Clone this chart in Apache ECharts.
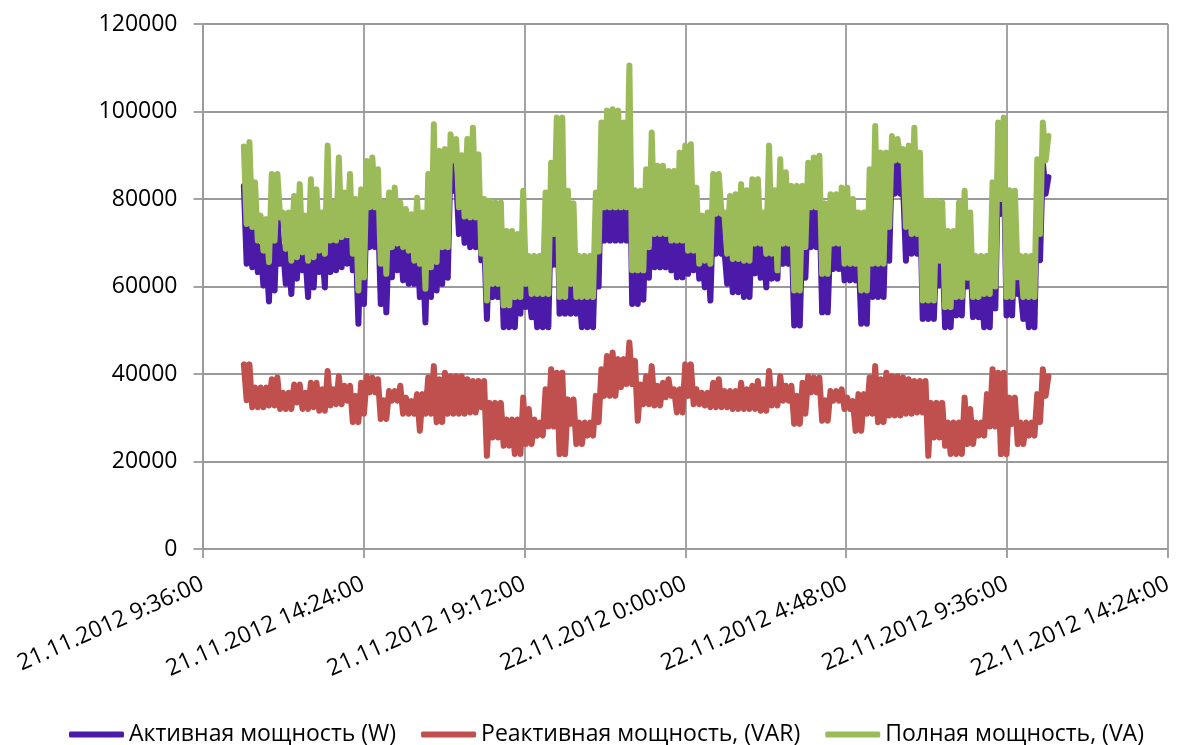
<!DOCTYPE html>
<html>
<head>
<meta charset="utf-8">
<script src="https://cdn.jsdelivr.net/npm/echarts@6/dist/echarts.min.js"></script>
<style>
  html, body { margin: 0; padding: 0; background: #ffffff; }
  #chart { width: 1178px; height: 745px; }
</style>
</head>
<body>
<div id="chart"></div>
<script>
// Series names (legend)
const seriesNames = ['Активная мощность (W)', 'Реактивная мощность, (VAR)', 'Полная мощность, (VA)'];

// Time axis tick labels, every 4:48 from 21.11.2012 9:36
const xTickLabels = [
  '21.11.2012 9:36:00', '21.11.2012 14:24:00', '21.11.2012 19:12:00',
  '22.11.2012 0:00:00', '22.11.2012 4:48:00', '22.11.2012 9:36:00', '22.11.2012 14:24:00'
];
const xTickStepMin = 288;          // 4 h 48 min
// Samples: minutes after 21.11.2012 9:36, first one at 10:50, every 5 min
const sampleStartMin = 74;
const sampleStepMin = 5;

// Active power, W
const activePower = [
  83000, 65200, 84000, 64400, 74800, 63300, 69000, 60200, 67000, 56600,
  76700, 59100, 77000, 65200, 69000, 60600, 68000, 58300, 71700, 61800,
  74400, 63700, 67200, 57600, 75500, 59800, 73200, 63300, 68500, 59800,
  83200, 63300, 71500, 63700, 80500, 64400, 72800, 65200, 76700, 63700,
  71000, 51500, 73200, 56000, 79700, 69000, 80500, 69000, 77800, 56000,
  70200, 54100, 72500, 62100, 73600, 63700, 70200, 61400, 69200, 60600,
  67500, 60600, 71300, 57600, 67900, 51800, 76700, 57600, 88100, 59100,
  82000, 60600, 82400, 62000, 90000, 81900, 84700, 72000, 81000, 70000,
  84700, 69000, 87300, 69000, 81200, 66000, 71000, 52600, 70600, 57600,
  70200, 57600, 70200, 50700, 63700, 50700, 63700, 50700, 63000, 53800,
  72900, 55300, 59300, 53000, 59300, 50700, 59300, 50700, 72500, 50700,
  79300, 65000, 89600, 53800, 89600, 53800, 72900, 53800, 70000, 53800,
  59300, 50700, 59300, 50700, 59300, 50700, 72500, 60000, 88500, 70500,
  91200, 70500, 91500, 70500, 91200, 70500, 88500, 70500, 98000, 56000,
  73000, 56000, 72900, 57000, 77800, 62000, 86200, 64400, 78600, 64400,
  78600, 64400, 77400, 63700, 77400, 62100, 81600, 62100, 83200, 62900,
  83500, 63700, 73600, 61800, 67500, 59800, 68000, 56800, 77600, 67500,
  77600, 67500, 68500, 60600, 71700, 58700, 72100, 58700, 74400, 57600,
  73000, 57600, 75500, 63000, 75500, 62000, 68500, 59800, 83200, 61800,
  73000, 61800, 80100, 65200, 77100, 65200, 74000, 51100, 74000, 51100,
  74000, 62000, 79300, 69000, 80500, 69000, 80900, 54100, 70000, 54100,
  72100, 64000, 72100, 64000, 73600, 61400, 73600, 61400, 71000, 61400,
  67900, 51500, 67900, 51500, 77800, 57600, 87700, 57600, 81600, 57600,
  81600, 65900, 89800, 81200, 89800, 81200, 82400, 65900, 83200, 67500,
  87300, 67500, 81600, 52600, 70600, 52600, 70600, 52600, 70600, 60200,
  70200, 50700, 63700, 50700, 63700, 53400, 70200, 53400, 72900, 60000,
  67900, 53000, 59300, 53000, 59300, 50700, 59300, 50700, 74800, 55000,
  88500, 76600, 89600, 53400, 73000, 53400, 72900, 58300, 59300, 52600,
  59300, 50700, 59300, 50700, 80100, 66000, 88500, 81200, 85000
];

// Reactive power, VAR
const reactivePower = [
  42200, 34000, 42200, 32400, 36900, 32400, 36900, 32400, 36900, 32800,
  38800, 32800, 39200, 32000, 35700, 32000, 35700, 32000, 37600, 33500,
  37600, 32000, 35700, 32000, 38000, 32400, 38000, 31600, 36500, 31600,
  40700, 32800, 36500, 33100, 39500, 33100, 37300, 33900, 37300, 29000,
  35000, 29000, 38000, 30900, 39500, 35800, 39200, 35800, 38800, 29700,
  34000, 29700, 36100, 33900, 36100, 33900, 37300, 30900, 34600, 30900,
  33800, 30900, 35400, 27000, 35400, 30900, 39200, 30900, 41800, 29000,
  38800, 29000, 40300, 30900, 39500, 30900, 39500, 30900, 39500, 30900,
  38800, 31200, 38400, 31200, 38400, 32400, 38400, 21300, 33400, 25500,
  33400, 25500, 33400, 23600, 29600, 23600, 29600, 21700, 29600, 21700,
  34600, 24000, 32000, 24000, 29600, 25900, 28900, 25900, 36500, 28000,
  41100, 28000, 40300, 21700, 40300, 21700, 34200, 28600, 34200, 24000,
  28900, 24000, 28900, 25900, 28900, 25900, 35000, 29000, 41100, 35000,
  44100, 35000, 44900, 35000, 43400, 37000, 43400, 37700, 47200, 37700,
  43000, 29300, 37600, 33100, 39500, 33100, 41800, 32800, 37300, 32800,
  38000, 34700, 38800, 35000, 36500, 31200, 36500, 31200, 42200, 35000,
  42200, 33100, 36500, 33100, 35700, 32800, 35700, 32400, 38000, 32400,
  38800, 32400, 36100, 32400, 36100, 32000, 36100, 32000, 38000, 32000,
  36500, 32000, 37300, 32000, 38400, 31600, 36500, 31600, 40700, 32800,
  36500, 32800, 39500, 33900, 37300, 33900, 37300, 28600, 35000, 28600,
  38000, 30900, 39500, 35800, 39200, 35800, 39200, 29300, 34000, 29300,
  36100, 33900, 36100, 33900, 36500, 32000, 34600, 32000, 33800, 27000,
  35400, 27000, 35400, 30900, 39200, 30900, 41800, 29000, 38800, 29000,
  40300, 30500, 39500, 30500, 39500, 30500, 39200, 30900, 38800, 30900,
  38400, 31200, 38400, 31200, 38400, 21300, 33400, 25500, 33400, 25500,
  33400, 23600, 28900, 21700, 28900, 21700, 28900, 21700, 34600, 24000,
  32000, 24000, 28900, 25900, 28900, 25900, 35400, 28000, 41100, 28000,
  40300, 21700, 40300, 21700, 34600, 28600, 34600, 24000, 28900, 24000,
  28900, 25900, 28900, 25900, 35400, 29000, 41100, 35000, 39500
];

// Apparent power, VA
const apparentPower = [
  92000, 74300, 93000, 73600, 83800, 70500, 76200, 68200, 75400, 65600,
  85700, 70500, 85700, 75800, 76900, 68600, 76900, 65900, 80700, 66700,
  83400, 67800, 76200, 65900, 84500, 66700, 82200, 68200, 76900, 67500,
  92200, 70500, 79200, 70500, 89500, 71300, 81500, 71700, 85700, 67500,
  80000, 59100, 82200, 62100, 88700, 78100, 89500, 78100, 86800, 65200,
  79200, 62900, 81500, 69000, 82600, 69800, 79200, 69000, 77700, 68200,
  76500, 65900, 80300, 65200, 76900, 59500, 85700, 64400, 97100, 65600,
  91000, 69000, 91400, 69000, 94800, 88800, 93700, 78100, 90000, 76000,
  93700, 75800, 96300, 75800, 90200, 67500, 80000, 56800, 79600, 60600,
  79200, 60600, 79200, 55700, 72700, 55700, 72700, 57600, 72000, 57600,
  81900, 60600, 67000, 58300, 67000, 58300, 67000, 58300, 81500, 58300,
  88300, 72000, 98600, 57600, 98600, 57600, 81900, 60600, 79000, 57600,
  67000, 57600, 67000, 57600, 67000, 57600, 81500, 68000, 97500, 78100,
  100200, 78100, 100500, 78100, 100200, 78100, 97500, 78100, 110500, 63700,
  82000, 63700, 81900, 63700, 86800, 69000, 95200, 72000, 87600, 72000,
  87600, 72000, 86400, 70500, 86400, 70500, 90600, 70500, 92200, 68200,
  92500, 68200, 82600, 65200, 76200, 65900, 76900, 65200, 85700, 76600,
  85700, 76600, 76900, 67500, 80700, 66300, 81100, 66300, 83400, 65900,
  82000, 65900, 84500, 69800, 84500, 69800, 76900, 67500, 92200, 67500,
  82000, 63700, 89100, 69800, 86100, 69800, 83000, 59100, 83000, 59100,
  83000, 69000, 88300, 78100, 89500, 78100, 89900, 62900, 79000, 62900,
  81100, 69800, 81100, 69800, 82600, 65200, 82600, 65200, 80000, 65200,
  76900, 59100, 76900, 59100, 86800, 65200, 96700, 65200, 90600, 65200,
  90600, 73600, 94400, 88800, 93700, 88800, 91400, 73600, 92200, 72000,
  96300, 72000, 90600, 56800, 79600, 56800, 79600, 56800, 79600, 65900,
  79200, 55300, 72700, 55300, 72700, 57600, 79200, 57600, 81900, 62000,
  76900, 57600, 67000, 57600, 67000, 58300, 67000, 58300, 83800, 60000,
  97500, 80000, 98600, 57600, 82000, 57600, 81900, 62100, 67000, 57600,
  67000, 57600, 67000, 57600, 89100, 72000, 97500, 88800, 94400
];

// Pair each value with its sample time (minutes on the x axis)
function withTime(values) {
  return values.map((v, i) => [sampleStartMin + i * sampleStepMin, v]);
}

const FONT = '"Open Sans", "Noto Sans", sans-serif';
const GRID_COLOR = '#9a9a9a';
const colors = ['#4b1aa8', '#c0504d', '#9bbb59'];

const chart = echarts.init(document.getElementById('chart'), null, { renderer: 'canvas' });

const lineSeries = (name, values, color, z) => ({
  name: name,
  type: 'line',
  data: withTime(values),
  symbol: 'none',
  showSymbol: false,
  z: z,
  lineStyle: { color: color, width: 6, cap: 'round', join: 'round' },
  itemStyle: { color: color },
  emphasis: { disabled: true }
});

chart.setOption({
  animation: false,
  backgroundColor: '#ffffff',
  textStyle: { fontFamily: FONT },
  grid: { left: 202.5, right: 10, top: 24, bottom: 196, containLabel: false },
  legend: {
    data: seriesNames,
    left: 64,
    top: 718,
    itemWidth: 55,
    itemHeight: 6,
    itemGap: 25,
    icon: 'roundRect',
    textStyle: { fontFamily: FONT, fontSize: 23, color: '#000000' }
  },
  xAxis: {
    type: 'value',
    min: 0,
    max: xTickStepMin * (xTickLabels.length - 1),
    interval: xTickStepMin,
    axisLine: { show: true, onZero: false, lineStyle: { color: GRID_COLOR, width: 1.8 } },
    axisTick: { show: true, inside: false, length: 9, lineStyle: { color: GRID_COLOR, width: 1.8 } },
    splitLine: { show: true, lineStyle: { color: GRID_COLOR, width: 1.8 } },
    axisLabel: {
      show: true,
      rotate: 24,
      margin: 34,
      showMinLabel: true,
      showMaxLabel: true,
      fontFamily: FONT,
      fontSize: 23,
      color: '#000000',
      formatter: (v) => xTickLabels[Math.round(v / xTickStepMin)] || ''
    }
  },
  yAxis: {
    type: 'value',
    min: 0,
    max: 120000,
    interval: 20000,
    axisLine: { show: true, lineStyle: { color: GRID_COLOR, width: 1.8 } },
    axisTick: { show: true, inside: false, length: 9, lineStyle: { color: GRID_COLOR, width: 1.8 } },
    splitLine: { show: true, lineStyle: { color: GRID_COLOR, width: 1.8 } },
    axisLabel: {
      margin: 25,
      fontFamily: FONT,
      fontSize: 23,
      color: '#000000',
      formatter: (v) => String(v)
    }
  },
  series: [
    lineSeries(seriesNames[0], activePower, colors[0], 2),
    lineSeries(seriesNames[1], reactivePower, colors[1], 3),
    lineSeries(seriesNames[2], apparentPower, colors[2], 4)
  ]
});
</script>
</body>
</html>
